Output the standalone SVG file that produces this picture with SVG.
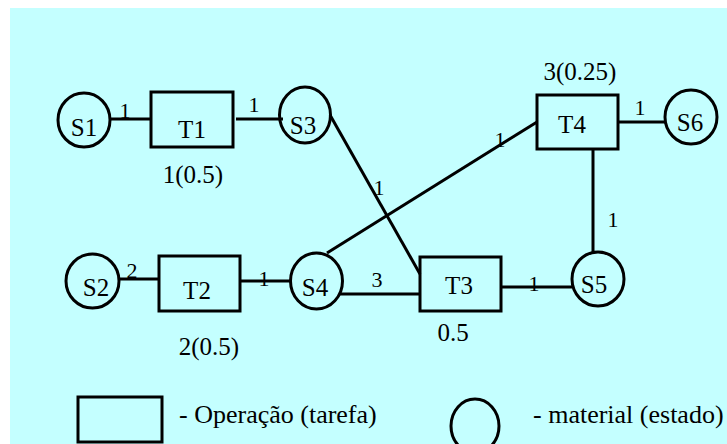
<svg xmlns="http://www.w3.org/2000/svg" width="727" height="444" viewBox="0 0 727 444">
<style>
.n{fill:none;stroke:#000;stroke-width:3}
.e{stroke:#000;stroke-width:3;fill:none}
.lb{font-size:25px;text-anchor:middle}
.w{font-size:25px;text-anchor:middle}
.el{font-size:22px;text-anchor:middle}
.lg{font-size:26px}
</style>
<rect x="0" y="0" width="727" height="444" fill="#ffffff"/>
<rect x="10" y="8" width="717" height="436" fill="#c4ffff"/>
<g font-family="Liberation Serif, DejaVu Serif, serif" fill="#000">
<g id="connectors">
<line class="e" x1="110" y1="119" x2="151" y2="119"/>
<text class="el" x="125" y="118">1</text>
<line class="e" x1="236" y1="119" x2="283" y2="119"/>
<text class="el" x="254" y="112">1</text>
<line class="e" x1="330" y1="115" x2="420" y2="274"/>
<text class="el" x="379" y="195">1</text>
<line class="e" x1="327" y1="253" x2="537" y2="122"/>
<text class="el" x="500" y="147">1</text>
<line class="e" x1="618" y1="122" x2="665" y2="122"/>
<text class="el" x="640" y="115">1</text>
<line class="e" x1="593" y1="148" x2="593" y2="252"/>
<text class="el" x="613" y="227">1</text>
<line class="e" x1="119" y1="279" x2="159" y2="279"/>
<text class="el" x="132" y="278">2</text>
<line class="e" x1="239" y1="281" x2="291" y2="281"/>
<text class="el" x="264" y="286">1</text>
<line class="e" x1="340" y1="294" x2="420" y2="294"/>
<text class="el" x="377" y="287">3</text>
<line class="e" x1="501" y1="287" x2="572" y2="287"/>
<text class="el" x="534" y="291">1</text>
</g>
<g id="S1"><ellipse class="n" cx="84" cy="120" rx="26" ry="27"/><text class="lb" x="84" y="136">S1</text></g>
<g id="T1"><rect class="n" x="151" y="92" width="82" height="55"/><text class="lb" x="192" y="138">T1</text></g>
<text class="w" x="193" y="183">1(0.5)</text>
<g id="S3"><ellipse class="n" cx="305" cy="115" rx="25.5" ry="28"/><text class="lb" x="303" y="134">S3</text></g>
<g id="T4"><rect class="n" x="537" y="95" width="81" height="54"/><text class="lb" x="572" y="133">T4</text></g>
<text class="w" x="580" y="80">3(0.25)</text>
<g id="S6"><ellipse class="n" cx="691" cy="117" rx="26" ry="27"/><text class="lb" x="690" y="131">S6</text></g>
<g id="S2"><ellipse class="n" cx="92.5" cy="281" rx="26.5" ry="27"/><text class="lb" x="96" y="296">S2</text></g>
<g id="T2"><rect class="n" x="159" y="256" width="81" height="55"/><text class="lb" x="197" y="299">T2</text></g>
<text class="w" x="209" y="355">2(0.5)</text>
<g id="S4"><ellipse class="n" cx="316.5" cy="281" rx="26" ry="28"/><text class="lb" x="315" y="296">S4</text></g>
<g id="T3"><rect class="n" x="420" y="257" width="81" height="54"/><text class="lb" x="459" y="294">T3</text></g>
<text class="w" x="453" y="341">0.5</text>
<g id="S5"><ellipse class="n" cx="598" cy="279" rx="26" ry="27"/><text class="lb" x="594" y="293">S5</text></g>
<g id="legend">
<rect class="n" x="78" y="397" width="84" height="45"/>
<text class="lg" x="179" y="423">- Operação (tarefa)</text>
<ellipse class="n" cx="475" cy="426" rx="24" ry="27"/>
<text class="lg" x="533" y="423">- material (estado)</text>
</g>
</g>
</svg>
